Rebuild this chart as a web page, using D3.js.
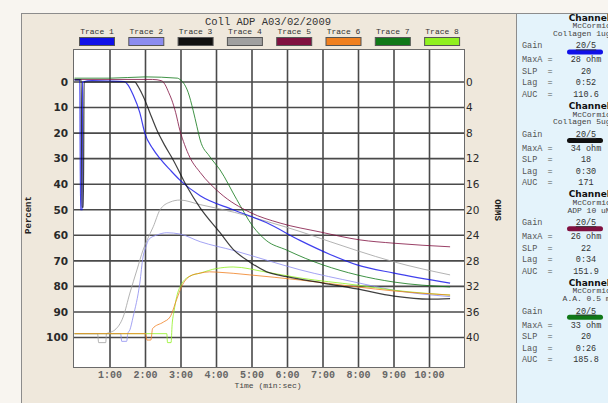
<!DOCTYPE html>
<html lang="en">

<head>
	<meta charset="utf-8">
	<title>Coll ADP A03/02/2009</title>
	<script src="https://cdn.jsdelivr.net/npm/d3@7"></script>
	<style type="text/css">
		body {
			margin: 0;
			background: #f8f5f0;
		}
		svg {
			display: block;
		}
	</style>
</head>

<body>
	<script type="text/javascript">

		// tick labels
		var percentTicks = [0, 10, 20, 30, 40, 50, 60, 70, 80, 90, 100];
		var ohmTicks = [0, 4, 8, 12, 16, 20, 24, 28, 32, 36, 40];
		var timeTicks = [1, 2, 3, 4, 5, 6, 7, 8, 9, 10];
		var timeLabels = ["1:00", "2:00", "3:00", "4:00", "5:00", "6:00", "7:00", "8:00", "9:00", "10:00"];
		var traceNames = ["Trace 1", "Trace 2", "Trace 3", "Trace 4", "Trace 5", "Trace 6", "Trace 7", "Trace 8"];

		// traces: [minutes, percent]
		var trace1 = [[0, -0.8], [0.15, -0.8], [0.17, 50], [0.21, 50], [0.23, 0], [0.5, -0.5], [1.0, -0.4], [1.4, -0.2],
			[1.5, 1], [1.65, 5], [1.84, 12], [1.98, 20], [2.2, 26], [2.41, 30], [2.7, 34.5], [2.97, 38.4], [3.54, 44.5],
			[4.47, 50], [5.4, 55], [6.35, 62], [7.2, 67.5], [7.96, 71.6], [9.0, 74.8], [10.58, 78.7]];
		var trace2 = [[0, 98.5], [1.3, 98.5], [1.33, 101.5], [1.47, 101.5], [1.5, 98.5], [1.56, 97], [1.65, 92],
			[1.84, 78.7], [1.93, 68.5], [2.0, 65], [2.1, 61.5], [2.32, 59.9], [2.6, 59], [2.97, 59.5], [3.54, 62.5],
			[4.5, 66], [5.4, 69.7], [6.35, 73.5], [7.96, 78.5], [9.0, 81.5], [10.58, 84]];
		var trace3 = [[0, -0.8], [0.19, -0.8], [0.21, 49], [0.25, 49], [0.27, 0], [0.6, 0], [1.2, 0], [1.7, 0],
			[1.76, 1], [1.88, 4], [1.98, 7], [2.15, 13], [2.32, 18.8], [2.55, 25], [2.78, 30.5], [3.17, 41], [3.54, 49.3],
			[4.1, 59], [4.47, 65.5], [4.94, 70.5], [5.4, 74.2], [5.98, 76.2], [7.0, 78.7], [7.96, 81], [9.0, 83.8],
			[10.0, 85], [10.58, 84.8]];
		var trace4 = [[0, 98.5], [0.65, 98.5], [0.68, 102], [0.88, 102], [0.9, 98.5], [1.0, 98], [1.14, 97], [1.37, 92],
			[1.56, 82.6], [1.76, 73.5], [1.93, 65.8], [2.04, 62], [2.22, 56.6], [2.41, 50], [2.69, 47], [2.97, 46.2],
			[3.54, 48], [4.5, 51], [5.4, 54.5], [6.35, 58.5], [7.2, 62.5], [7.96, 66], [9.0, 70.4], [10.58, 75.5]];
		var trace5 = [[0, -1], [1.0, -1], [2.2, -1], [2.45, -0.5], [2.55, 1], [2.65, 4], [2.74, 7], [2.85, 12],
			[2.97, 19], [3.1, 24.5], [3.25, 29.5], [3.54, 35.4], [4.1, 43.5], [4.94, 51], [5.79, 55.2], [6.92, 58.7],
			[8.04, 61.8], [9.0, 63.1], [10.58, 64.5]];
		var trace6 = [[0, 98.5], [2.0, 98.5], [2.04, 101], [2.15, 101], [2.2, 96.5], [2.5, 94], [2.69, 92], [2.88, 85],
			[3.02, 80], [3.25, 76], [3.54, 74.8], [3.8, 74.3], [4.0, 74.4], [4.94, 75.5], [6.35, 77.5], [7.96, 80.2],
			[9.0, 81.8], [10.58, 83.4]];
		var trace7 = [[0, -1.5], [1.0, -1.5], [2.0, -2], [2.9, -1.5], [2.97, -1], [3.1, 1], [3.2, 4], [3.34, 11],
			[3.45, 17.5], [3.54, 22.7], [3.8, 29], [4.1, 34.4], [4.57, 46], [5.03, 56.6], [5.4, 62], [5.98, 65.8],
			[6.5, 69], [7.0, 71.6], [7.96, 75.5], [9.0, 78.3], [10.58, 80.2]];
		var trace8 = [[0, 98.5], [2.6, 98.5], [2.62, 102], [2.72, 102], [2.75, 95], [2.8, 90], [2.88, 84], [3.02, 79],
			[3.25, 76], [3.54, 74.8], [4.0, 73], [4.47, 72.4], [5.4, 74.4], [6.35, 76.7], [7.96, 79.5], [9.0, 81.5],
			[10.58, 83.4]];
		var traces = [trace1, trace2, trace3, trace4, trace5, trace6, trace7, trace8];

		// channel summary panel
		var channelNames = ["Channel 1", "Channel 2", "Channel 3", "Channel 4"];
		var channelOwners = ["McCormick", "McCormick", "McCormick", "McCormick"];
		var channelAgonists = ["Collagen 1ug/ml", "Collagen 5ug/ml", "ADP 10 uM", "A.A. 0.5 mM"];
		var channelTrace = [0, 2, 4, 6];
		var channelGain = ["20/5", "20/5", "20/5", "20/5"];
		var channelMaxA = ["28 ohm", "34 ohm", "26 ohm", "33 ohm"];
		var channelSlp = ["20", "18", "22", "20"];
		var channelLag = ["0:52", "0:30", "0:34", "0:26"];
		var channelAuc = ["110.6", "171", "151.9", "185.8"];

		var colors = ["#1010e8", "#8c8cf0", "#101010", "#a0a0a0", "#801040", "#f08020", "#107818", "#90f020"];
		var mono = "'Liberation Mono', 'DejaVu Sans Mono', monospace";

		var w = 608;
		var h = 403;

		var svg = d3.select("body")
			.append("svg")
			.attr("width", w)
			.attr("height", h);

		// frame + panel
		svg.append("rect")
			.attr("x", 21.5).attr("y", 13.5)
			.attr("width", 620).attr("height", 420)
			.attr("fill", "#efe8dc")
			.attr("stroke", "#8c8c8c");

		svg.append("rect")
			.attr("x", 516.5).attr("y", 13.5)
			.attr("width", 120).attr("height", 420)
			.attr("fill", "#e4f3fb")
			.attr("stroke", "#8c8c8c");

		// plot area
		var plotL = 73, plotR = 464, plotT = 49, plotB = 367;

		var x = d3.scaleLinear().domain([0, 11]).range([74.5, 465]);
		var y = d3.scaleLinear().domain([0, 100]).range([82, 337.5]);
		var yOhm = d3.scaleLinear().domain([0, 40]).range([82, 337.5]);

		svg.append("rect")
			.attr("x", plotL).attr("y", plotT)
			.attr("width", plotR - plotL).attr("height", plotB - plotT)
			.attr("fill", "white");

		// grid
		svg.append("g")
			.selectAll("line")
			.data(percentTicks)
			.enter()
			.append("line")
			.attr("x1", plotL).attr("x2", plotR)
			.attr("y1", function(d){ return y(d); })
			.attr("y2", function(d){ return y(d); })
			.attr("stroke", "#4a4a4a")
			.attr("stroke-width", 1.6);

		svg.append("g")
			.selectAll("line")
			.data(timeTicks)
			.enter()
			.append("line")
			.attr("y1", plotT).attr("y2", plotB)
			.attr("x1", function(d){ return x(d); })
			.attr("x2", function(d){ return x(d); })
			.attr("stroke", "#4a4a4a")
			.attr("stroke-width", 1.6);

		svg.append("rect")
			.attr("x", plotL + 0.5).attr("y", plotT + 0.5)
			.attr("width", plotR - plotL).attr("height", plotB - plotT)
			.attr("fill", "none")
			.attr("stroke", "#6a6a6a");

		// traces
		svg.append("clipPath")
			.attr("id", "plotclip")
			.append("rect")
			.attr("x", plotL).attr("y", plotT)
			.attr("width", plotR - plotL).attr("height", plotB - plotT);

		var line = d3.line()
			.x(function(d){ return x(d[0]); })
			.y(function(d){ return y(d[1]); })
			.curve(d3.curveMonotoneX);

		// draw pale traces first so the dark ones stay on top
		var drawOrder = [3, 1, 7, 5, 6, 4, 0, 2];
		svg.append("g")
			.attr("clip-path", "url(#plotclip)")
			.selectAll("path")
			.data(drawOrder)
			.enter()
			.append("path")
			.attr("d", function(i){ return line(traces[i]); })
			.attr("fill", "none")
			.attr("stroke", function(i){ return colors[i]; })
			.attr("stroke-width", function(i){ return (i == 0 || i == 2) ? 1.2 : 1; })
			.attr("stroke-opacity", 0.8);

		// left axis labels
		svg.append("g")
			.selectAll("text")
			.data(percentTicks)
			.enter()
			.append("text")
			.attr("x", 68)
			.attr("y", function(d){ return y(d); })
			.attr("dy", "0.36em")
			.attr("text-anchor", "end")
			.attr("font-family", "'DejaVu Sans', sans-serif")
			.attr("font-weight", "bold")
			.attr("font-size", "10.5px")
			.attr("fill", "#2a2a2a")
			.text(function(d){ return d; });

		// right axis labels
		svg.append("g")
			.selectAll("text")
			.data(ohmTicks)
			.enter()
			.append("text")
			.attr("x", 466)
			.attr("y", function(d){ return yOhm(d); })
			.attr("dy", "0.36em")
			.attr("font-family", "'DejaVu Sans', sans-serif")
			.attr("font-size", "10.5px")
			.attr("fill", "#2a2a2a")
			.text(function(d){ return d; });

		// time labels
		svg.append("g")
			.selectAll("text")
			.data(timeTicks)
			.enter()
			.append("text")
			.attr("x", function(d){ return x(d); })
			.attr("y", 378)
			.attr("text-anchor", "middle")
			.attr("font-family", mono)
			.attr("font-weight", "bold")
			.attr("font-size", "10px")
			.attr("fill", "#666")
			.text(function(d, i){ return timeLabels[i]; });

		svg.append("text")
			.attr("x", 268).attr("y", 388)
			.attr("text-anchor", "middle")
			.attr("font-family", mono)
			.attr("font-size", "8px")
			.attr("fill", "#444")
			.text("Time (min:sec)");

		svg.append("text")
			.attr("transform", "translate(31,215) rotate(-90)")
			.attr("text-anchor", "middle")
			.attr("font-family", mono)
			.attr("font-weight", "bold")
			.attr("font-size", "9px")
			.attr("fill", "#222")
			.text("Percent");

		svg.append("text")
			.attr("transform", "translate(495,210) rotate(90)")
			.attr("text-anchor", "middle")
			.attr("font-family", mono)
			.attr("font-weight", "bold")
			.attr("font-size", "9px")
			.attr("fill", "#222")
			.text("OHMS");

		// title
		svg.append("text")
			.attr("x", 268).attr("y", 21)
			.attr("dy", "0.35em")
			.attr("text-anchor", "middle")
			.attr("font-family", mono)
			.attr("font-size", "10.5px")
			.attr("fill", "#333")
			.text("Coll ADP A03/02/2009");

		// legend
		var legend = svg.append("g")
			.selectAll("g")
			.data(traceNames)
			.enter()
			.append("g")
			.attr("transform", function(d, i){ return "translate(" + (79 + i * 49.3) + ",0)"; });

		legend.append("text")
			.attr("x", 18).attr("y", 31.5)
			.attr("dy", "0.35em")
			.attr("text-anchor", "middle")
			.attr("font-family", mono)
			.attr("font-size", "8px")
			.attr("fill", "#333")
			.text(function(d){ return d; });

		legend.append("rect")
			.attr("x", 0.5).attr("y", 37.5)
			.attr("width", 35).attr("height", 8)
			.attr("fill", function(d, i){ return colors[i]; })
			.attr("stroke", "#555");

		// channel panel
		var blocks = svg.append("g")
			.selectAll("g")
			.data(channelNames)
			.enter()
			.append("g")
			.attr("transform", function(d, i){ return "translate(0," + (18 + i * 88.4) + ")"; });

		blocks.append("text")
			.attr("x", 594).attr("y", -0.5)
			.attr("dy", "0.35em")
			.attr("text-anchor", "middle")
			.attr("font-family", "'DejaVu Sans', sans-serif")
			.attr("font-weight", "bold")
			.attr("font-size", "9px")
			.attr("fill", "#111")
			.text(function(d){ return d; });

		blocks.append("text")
			.attr("x", 594).attr("y", 7.5)
			.attr("dy", "0.35em")
			.attr("text-anchor", "middle")
			.attr("font-family", mono)
			.attr("font-size", "8px")
			.attr("fill", "#444")
			.text(function(d, i){ return channelOwners[i]; });

		blocks.append("text")
			.attr("x", 589).attr("y", 15)
			.attr("dy", "0.35em")
			.attr("text-anchor", "middle")
			.attr("font-family", mono)
			.attr("font-size", "8px")
			.attr("fill", "#444")
			.text(function(d, i){ return channelAgonists[i]; });

		blocks.append("rect")
			.attr("x", 567).attr("y", 31.5)
			.attr("width", 36).attr("height", 5)
			.attr("rx", 2.5)
			.attr("fill", function(d, i){ return colors[channelTrace[i]]; });

		var rowNames = ["Gain", "MaxA =", "SLP  =", "Lag  =", "AUC  ="];
		var rowY = [27.5, 41.5, 53, 64.5, 76];

		blocks.each(function(d, i){
			var g = d3.select(this);
			var vals = [channelGain[i], channelMaxA[i], channelSlp[i], channelLag[i], channelAuc[i]];
			rowNames.forEach(function(name, r){
				g.append("text")
					.attr("x", 522).attr("y", rowY[r])
					.attr("dy", "0.35em")
					.attr("font-family", mono)
					.attr("font-size", "8.5px")
					.attr("fill", "#555")
					.attr("xml:space", "preserve")
					.style("white-space", "pre")
					.text(name);
				g.append("text")
					.attr("x", 586).attr("y", rowY[r])
					.attr("dy", "0.35em")
					.attr("text-anchor", "middle")
					.attr("font-family", mono)
					.attr("font-size", "8.5px")
					.attr("fill", "#333")
					.attr("text-decoration", r == 0 ? "underline" : null)
					.text(vals[r]);
			});
		});

	</script>
</body>

</html>
